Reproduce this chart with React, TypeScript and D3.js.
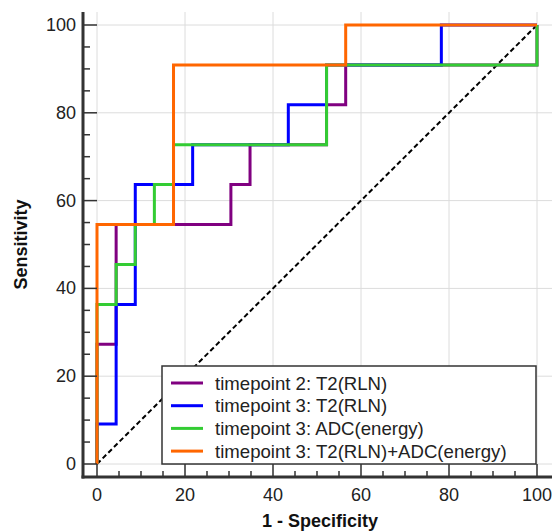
import * as d3 from "d3";

// ROC operating points (1 - specificity, sensitivity), in %
const seriesNames = [
  "timepoint 2: T2(RLN)",
  "timepoint 3: T2(RLN)",
  "timepoint 3: ADC(energy)",
  "timepoint 3: T2(RLN)+ADC(energy)",
];
const seriesColors = ["#800080", "#0000ff", "#33cc33", "#ff6600"];

const t2RlnTp2X = [0, 0, 4.35, 30.43, 34.78, 52.17, 56.52, 100];
const t2RlnTp2Y = [0, 27.27, 54.55, 63.64, 72.73, 81.82, 90.91, 100];

const t2RlnTp3X = [0, 0, 4.35, 8.7, 21.74, 43.48, 52.17, 78.26, 100];
const t2RlnTp3Y = [0, 9.09, 36.36, 63.64, 72.73, 81.82, 90.91, 100, 100];

const adcTp3X = [0, 0, 4.35, 8.7, 13.04, 17.39, 52.17, 100];
const adcTp3Y = [0, 36.36, 45.45, 54.55, 63.64, 72.73, 90.91, 100];

const comboTp3X = [0, 0, 17.39, 56.52, 100];
const comboTp3Y = [0, 54.55, 90.91, 100, 100];

const majorTicks = [0, 20, 40, 60, 80, 100];
const minorTicks = d3.range(0, 101, 5);

const seriesX = [t2RlnTp2X, t2RlnTp3X, adcTp3X, comboTp3X];
const seriesY = [t2RlnTp2Y, t2RlnTp3Y, adcTp3Y, comboTp3Y];

export default function App() {
  const width = 553;
  const height = 532;
  const axisLeft = 83;
  const axisBottom = 477;
  const plotTop = 12;
  const plotRight = 552;

  const x = d3.scaleLinear().domain([0, 100]).range([97, 537]);
  const y = d3.scaleLinear().domain([0, 100]).range([464, 25]);

  const line = d3
    .line<[number, number]>()
    .x((d) => x(d[0]))
    .y((d) => y(d[1]))
    .curve(d3.curveStepAfter);

  const font = "'Liberation Sans', Arial, sans-serif";

  return (
    <svg
      width={width}
      height={height}
      style={{ position: "absolute", left: 0, top: 0, background: "#fff" }}
      fontFamily={font}
    >
      {/* grid */}
      {majorTicks.map((t) => (
        <g key={"g" + t}>
          <line x1={x(t)} x2={x(t)} y1={plotTop} y2={axisBottom} stroke="#dcdcdc" strokeWidth={1} />
          <line x1={axisLeft} x2={plotRight} y1={y(t)} y2={y(t)} stroke="#dcdcdc" strokeWidth={1} />
        </g>
      ))}

      {/* chance diagonal */}
      <line
        x1={x(0)}
        y1={y(0)}
        x2={x(100)}
        y2={y(100)}
        stroke="#000"
        strokeWidth={2}
        strokeDasharray="5,3"
      />

      {/* ROC curves */}
      {seriesX.map((xs, i) => (
        <path
          key={seriesNames[i]}
          d={line(xs.map((v, j) => [v, seriesY[i][j]] as [number, number])) || ""}
          fill="none"
          stroke={seriesColors[i]}
          strokeWidth={3}
        />
      ))}

      {/* axes */}
      <line x1={axisLeft} x2={axisLeft} y1={plotTop} y2={axisBottom + 1.5} stroke="#333" strokeWidth={3} />
      <line x1={axisLeft - 1.5} x2={plotRight} y1={axisBottom} y2={axisBottom} stroke="#333" strokeWidth={3} />
      {minorTicks.map((t) => {
        const major = t % 20 === 0;
        return (
          <g key={"t" + t}>
            <line
              x1={axisLeft}
              x2={major ? x(0) : axisLeft + 7}
              y1={y(t)}
              y2={y(t)}
              stroke="#333"
              strokeWidth={1.5}
            />
            <line
              x1={x(t)}
              x2={x(t)}
              y1={axisBottom}
              y2={major ? y(0) : axisBottom - 6}
              stroke="#333"
              strokeWidth={1.5}
            />
          </g>
        );
      })}
      {majorTicks.map((t) => (
        <g key={"l" + t} fontSize={18} fill="#222">
          <text x={76} y={y(t)} textAnchor="end" dominantBaseline="central">
            {t}
          </text>
          <text x={x(t)} y={501} textAnchor="middle">
            {t}
          </text>
        </g>
      ))}

      {/* axis titles */}
      <text x={320} y={527} textAnchor="middle" fontSize={18} fontWeight="bold" fill="#111">
        1 - Specificity
      </text>
      <text
        transform={`translate(27,${(y(0) + y(100)) / 2}) rotate(-90)`}
        textAnchor="middle"
        fontSize={18}
        fontWeight="bold"
        fill="#111"
      >
        Sensitivity
      </text>

      {/* legend */}
      <rect x={162} y={366} width={374} height={98} fill="#fff" stroke="#333" strokeWidth={1.5} />
      {seriesNames.map((name, i) => {
        const ly = 383 + i * 22.7;
        return (
          <g key={"lg" + name}>
            <line x1={171} x2={203} y1={ly} y2={ly} stroke={seriesColors[i]} strokeWidth={3} />
            <text x={215} y={ly + 6.5} fontSize={18.6} fill="#222">
              {name}
            </text>
          </g>
        );
      })}
    </svg>
  );
}
